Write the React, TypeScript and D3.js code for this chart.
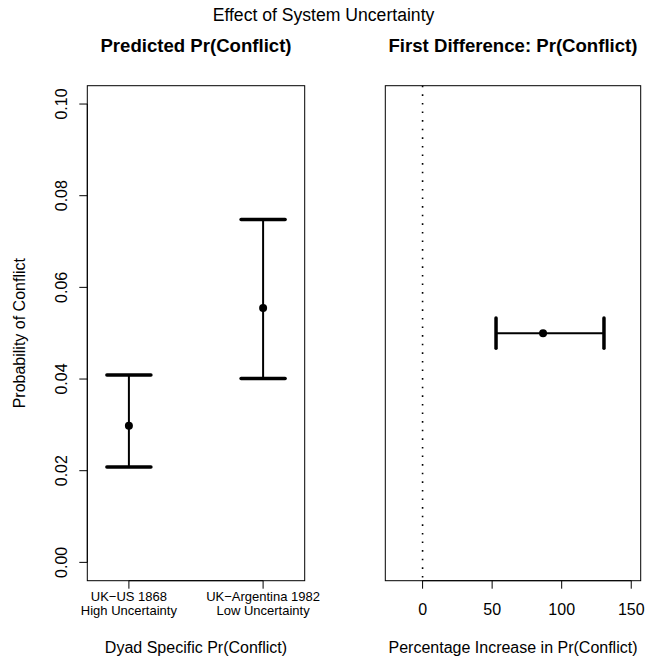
import React from "react";
import * as d3 from "d3";

const dyads = ["UK\u2212US 1868|High Uncertainty", "UK\u2212Argentina 1982|Low Uncertainty"];
const dyadPos = [1, 2];
const predMean = [0.0298, 0.0555];
const predLow = [0.0208, 0.0401];
const predHigh = [0.0409, 0.0748];
const yTicks = [0, 0.02, 0.04, 0.06, 0.08, 0.1];

const fdMean = [86.6];
const fdLow = [52.8];
const fdHigh = [130.4];
const fdY = [0.05];
const fdTicks = [0, 50, 100, 150];

const FONT = "'Liberation Sans', Arial, Helvetica, sans-serif";

export default function App() {
  const W = 647, H = 664;
  const top = 85.7, bottom = 580.7;
  const L1 = 87.3, R1 = 304.7;
  const L2 = 385.3, R2 = 640.7;

  const ext = (a: number, b: number): [number, number] => {
    const d = (b - a) * 0.04;
    return [a - d, b + d];
  };
  const y = d3.scaleLinear().domain(ext(0, 0.1)).range([bottom, top]);
  const x1 = d3.scaleLinear().domain(ext(0.75, 2.25)).range([L1, R1]);
  const x2 = d3.scaleLinear().domain(ext(-20, 150)).range([L2, R2]);

  const capHalfX = 0.164;
  const capHalfY = 0.0033;
  const tick = 8;

  return (
    <svg width={W} height={H} style={{ display: "block", position: "absolute", left: 0, top: 0 }} fontFamily={FONT}>
      <rect width={W} height={H} fill="#fff" />
      <text x={W / 2} y={21} textAnchor="middle" fontSize={17.6}>Effect of System Uncertainty</text>
      <text x={(L1 + R1) / 2} y={52} textAnchor="middle" fontSize={18.6} fontWeight="bold">Predicted Pr(Conflict)</text>
      <text x={(L2 + R2) / 2} y={52} textAnchor="middle" fontSize={18.6} fontWeight="bold">First Difference: Pr(Conflict)</text>

      {/* Left panel */}
      <rect x={L1} y={top} width={R1 - L1} height={bottom - top} fill="none" stroke="#000" strokeWidth={1} />
      <line x1={L1} x2={L1} y1={y(0)} y2={y(0.1)} stroke="#000" />
      {yTicks.map((t) => (
        <g key={t}>
          <line x1={L1 - tick} x2={L1} y1={y(t)} y2={y(t)} stroke="#000" />
          <text
            transform={`translate(${L1 - 20.5},${y(t)}) rotate(-90)`}
            textAnchor="middle"
            fontSize={16}
          >
            {t.toFixed(2)}
          </text>
        </g>
      ))}
      <text transform={`translate(25,${(top + bottom) / 2}) rotate(-90)`} textAnchor="middle" fontSize={16}>
        Probability of Conflict
      </text>
      {dyadPos.map((p, i) => {
        const [a, b] = dyads[i].split("|");
        return (
          <g key={p}>
            <line x1={x1(p)} x2={x1(p)} y1={bottom} y2={bottom + tick} stroke="#000" />
            <text x={x1(p)} y={601} textAnchor="middle" fontSize={13}>{a}</text>
            <text x={x1(p)} y={615} textAnchor="middle" fontSize={13}>{b}</text>
          </g>
        );
      })}
      <line x1={x1(1)} x2={x1(2)} y1={bottom} y2={bottom} stroke="#000" />
      <text x={(L1 + R1) / 2} y={652.5} textAnchor="middle" fontSize={16}>Dyad Specific Pr(Conflict)</text>
      {dyadPos.map((p, i) => (
        <g key={"eb" + p}>
          <line x1={x1(p)} x2={x1(p)} y1={y(predLow[i])} y2={y(predHigh[i])} stroke="#000" strokeWidth={2} />
          <line x1={x1(p - capHalfX)} x2={x1(p + capHalfX)} y1={y(predLow[i])} y2={y(predLow[i])} stroke="#000" strokeWidth={3.5} strokeLinecap="round" />
          <line x1={x1(p - capHalfX)} x2={x1(p + capHalfX)} y1={y(predHigh[i])} y2={y(predHigh[i])} stroke="#000" strokeWidth={3.5} strokeLinecap="round" />
          <circle cx={x1(p)} cy={y(predMean[i])} r={4} fill="#000" />
        </g>
      ))}

      {/* Right panel */}
      <rect x={L2} y={top} width={R2 - L2} height={bottom - top} fill="none" stroke="#000" strokeWidth={1} />
      <line x1={x2(0)} x2={x2(0)} y1={top} y2={bottom} stroke="#000" strokeWidth={1.6} strokeDasharray="1.6,7" />
      {fdTicks.map((t) => (
        <g key={t}>
          <line x1={x2(t)} x2={x2(t)} y1={bottom} y2={bottom + tick} stroke="#000" />
          <text x={x2(t)} y={615} textAnchor="middle" fontSize={16}>{t}</text>
        </g>
      ))}
      <line x1={x2(0)} x2={x2(150)} y1={bottom} y2={bottom} stroke="#000" />
      <text x={(L2 + R2) / 2} y={652.5} textAnchor="middle" fontSize={16}>Percentage Increase in Pr(Conflict)</text>
      {fdMean.map((m, i) => (
        <g key={"fd" + i}>
          <line x1={x2(fdLow[i])} x2={x2(fdHigh[i])} y1={y(fdY[i])} y2={y(fdY[i])} stroke="#000" strokeWidth={2} />
          <line x1={x2(fdLow[i])} x2={x2(fdLow[i])} y1={y(fdY[i] - capHalfY)} y2={y(fdY[i] + capHalfY)} stroke="#000" strokeWidth={3.5} strokeLinecap="round" />
          <line x1={x2(fdHigh[i])} x2={x2(fdHigh[i])} y1={y(fdY[i] - capHalfY)} y2={y(fdY[i] + capHalfY)} stroke="#000" strokeWidth={3.5} strokeLinecap="round" />
          <circle cx={x2(m)} cy={y(fdY[i])} r={4} fill="#000" />
        </g>
      ))}
    </svg>
  );
}
